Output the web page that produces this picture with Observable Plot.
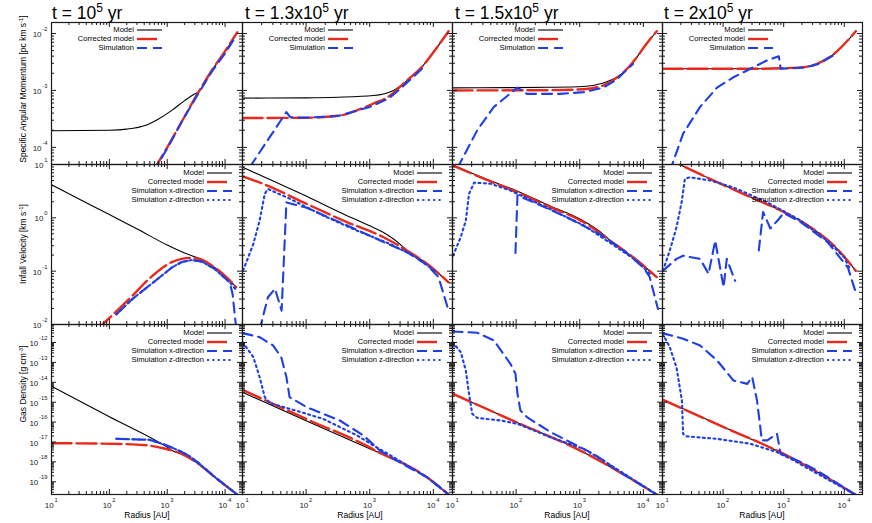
<!DOCTYPE html>
<html><head><meta charset="utf-8">
<script src="https://cdn.jsdelivr.net/npm/d3@7"></script>
<script src="https://cdn.jsdelivr.net/npm/@observablehq/plot@0.6"></script>
<style>
body{margin:0;background:#fff;font-family:"Liberation Sans",Arial,sans-serif;}
#root{position:relative;width:872px;height:523px;overflow:hidden;background:#fff;}
.abs{position:absolute;white-space:nowrap;color:#000;}
.sp{position:relative;font-size:70%;top:-0.45em;}
</style></head><body><div id="root"></div>
<script>
// ---------- tick values / labels ----------
const radiusTicks = [10, 100, 1000, 10000];
const radiusTickExps = ["1", "2", "3", "4"];
const jTicks = [1e-4, 1e-3, 1e-2];
const jTickExps = ["-4", "-3", "-2"];
const vTicks = [1e-2, 1e-1, 1, 10];
const vTickExps = ["-2", "-1", "0", "1"];
const rhoTicks = [1e-19, 1e-18, 1e-17, 1e-16, 1e-15, 1e-14, 1e-13, 1e-12];
const rhoTickExps = ["-19", "-18", "-17", "-16", "-15", "-14", "-13", "-12"];

const timeMantissa = ["", "1.3x", "1.5x", "2x"];
const timeExp = "5";
const yLabels = ["Specific Angular Momentum [pc km s<span class='sp'>-1</span>]",
                 "Infall Velocity [km s<span class='sp'>-1</span>]",
                 "Gas Density [g cm<span class='sp'>-3</span>]"];
const xLabel = "Radius [AU]";
const legendRow1 = ["Model", "Corrected model", "Simulation"];
const legendRows23 = ["Model", "Corrected model", "Simulation x-direction", "Simulation z-direction"];

// ---------- specific angular momentum [pc km/s] vs radius [AU] ----------
const jModel_1 = [[10,1.96e-4],[100,2.0e-4],[200,2.09e-4],[427,2.45e-4],[708,3.16e-4],[1202,4.47e-4],[1995,6.61e-4],[3020,8.71e-4],[3467,9.33e-4],[5888,2.24e-3],[10000,4.79e-3],[16220,1.05e-2]];
const jCorr_1 = [[562,3.72e-5],[1000,1.0e-4],[1778,2.82e-4],[3467,9.33e-4],[5888,2.24e-3],[10000,4.9e-3],[16220,1.05e-2]];
const jSim_1 = [[575,3.72e-5],[1000,9.55e-5],[1778,2.82e-4],[3467,8.91e-4],[5888,2.14e-3],[10000,4.47e-3],[15490,9.12e-3]];

const jModel_2 = [[10,7.33e-4],[100,7.41e-4],[316,7.59e-4],[1148,8.13e-4],[2344,1.0e-3],[3388,1.32e-3],[6918,2.75e-3],[11480,5.75e-3],[17380,1.096e-2]];
const jCorr_2 = [[10,3.27e-4],[100,3.31e-4],[339,3.63e-4],[631,4.47e-4],[1148,5.89e-4],[2089,8.13e-4],[3388,1.32e-3],[6918,2.75e-3],[11480,5.75e-3],[17380,1.096e-2]];
const jSim_2 = [[13.2,4.6e-5],[49,4.17e-4],[56.2,3.39e-4],[100,3.31e-4],[316,3.55e-4],[1000,5.13e-4],[1995,7.24e-4],[3162,1.12e-3],[6918,2.51e-3]];

const jModel_3 = [[10,1.11e-3],[100,1.12e-3],[316,1.135e-3],[1148,1.175e-3],[2344,1.35e-3],[3802,1.70e-3],[4898,2.09e-3],[6918,3.16e-3],[11220,6.61e-3],[16220,1.096e-2]];
const jCorr_3 = [[10,1.0e-3],[316,1.01e-3],[1148,1.05e-3],[2344,1.23e-3],[3802,1.66e-3],[4898,2.09e-3],[6918,3.16e-3],[11220,6.61e-3],[16220,1.096e-2]];
const jSim_3 = [[12.0,4.37e-5],[24.5,2.0e-4],[44.7,5.13e-4],[105,1.12e-3],[148,8.71e-4],[490,8.71e-4],[1148,9.33e-4],[2344,1.12e-3],[3802,1.55e-3],[6918,2.95e-3]];

const jModel_4 = [[10,2.40e-3],[316,2.40e-3],[1000,2.45e-3],[2188,2.57e-3],[3631,2.95e-3],[6761,4.37e-3],[11480,7.59e-3],[15490,1.096e-2]];
const jCorr_4 = [[10,2.40e-3],[316,2.40e-3],[1000,2.45e-3],[2188,2.57e-3],[3631,2.95e-3],[6761,4.37e-3],[11480,7.59e-3],[15490,1.096e-2]];
const jSim_4 = [[13.2,3.8e-5],[21.9,1.74e-4],[41.7,5.13e-4],[79.4,1.12e-3],[148,1.70e-3],[282,2.40e-3],[537,3.39e-3],[832,3.98e-3],[891,2.40e-3],[2188,2.51e-3],[3631,2.88e-3],[6761,4.17e-3]];

// ---------- infall velocity [km/s] ----------
const vModel_1 = [[10,4.17],[31.6,2.19],[100,1.15],[316,0.603],[1000,0.309],[1995,0.219],[3162,0.182],[3981,0.166],[6607,0.117],[10000,0.0813],[15490,0.0501]];
const vCorr_1 = [[60.3,7.94e-3],[251,0.0347],[490,0.0724],[1202,0.148],[1778,0.170],[2630,0.178],[3981,0.162],[6607,0.117],[10000,0.0813],[15490,0.0501]];
const vSimX_1 = [[132,0.0155],[251,0.0302],[490,0.0537],[1202,0.117],[1778,0.148],[2630,0.162],[3981,0.151],[6607,0.110],[12020,0.0617],[13490,0.0372],[15490,8.9e-3]];
const vSimZ_1 = [[132,0.0155],[251,0.0302],[490,0.0537],[1202,0.117],[1778,0.148],[2630,0.162],[3981,0.151],[6607,0.110],[12020,0.0617],[15490,0.0447]];

const vModel_2 = [[10,8.91],[31.6,4.79],[100,2.57],[316,1.32],[1000,0.708],[1622,0.537],[2512,0.380],[3802,0.251],[7943,0.138],[17380,0.0617]];
const vCorr_2 = [[10,5.96],[24,4.07],[102,1.82],[437,0.832],[1622,0.437],[3802,0.245],[7943,0.138],[17380,0.0617]];
const vSimX_2 = [[18.6,7.94e-3],[25.1,0.0324],[32.4,0.0468],[41.2,0.0182],[49,1.95],[102,1.55],[437,0.724],[1622,0.355],[3802,0.229],[7943,0.132],[12020,0.0776],[17380,0.0182]];
const vSimZ_2 = [[10.2,0.102],[14.8,0.324],[18.6,0.891],[22.4,2.82],[25.1,3.47],[55,2.29],[186,1.10],[631,0.575],[2089,0.324],[5012,0.191],[11220,0.0955]];

const vModel_3 = [[10,9.89],[31.6,5.50],[105,3.16],[316,1.74],[1148,0.871],[2344,0.490],[3020,0.372],[6918,0.182],[16220,0.0776]];
const vCorr_3 = [[10,9.66],[31.6,5.37],[105,3.02],[347,1.585],[1148,0.832],[3020,0.372],[6918,0.182],[16220,0.0776]];
const vSimX_3 = [[97.7,0.219],[105,2.63],[191,1.95],[631,1.02],[2089,0.490],[4898,0.245],[10000,0.117],[12590,0.0776],[16980,0.0195]];
const vSimZ_3 = [[10.2,0.195],[13.5,0.437],[16.2,0.891],[18.2,2.82],[21.9,4.57],[39.8,4.37],[81.3,3.24],[347,1.445],[1148,0.724],[3020,0.339],[7943,0.155],[12590,0.0891]];

const vModel_4 = [[10,14.1],[20.9,9.55],[79.4,4.68],[282,2.45],[1000,1.29],[2818,0.661],[6761,0.302],[15490,0.102]];
const vCorr_4 = [[10,14.1],[20.9,9.55],[79.4,4.68],[282,2.45],[1000,1.29],[2818,0.661],[6761,0.302],[15490,0.102]];
const vSimX_4 = [[10.2,0.102],[17,0.170],[21.9,0.195],[41.7,0.170],[57.5,0.0891],[74.1,0.372],[89.1,0.117],[102,0.0501],[115,0.170],[158,0.0661],[250,NaN],[389,0.245],[457,1.29],[603,0.631],[794,0.891],[1000,1.23],[1905,0.832],[5248,0.355],[11480,0.117],[15490,0.0398]];
const vSimZ_4 = [[10.2,0.102],[13.2,0.245],[17,0.661],[20.9,2.09],[23.4,5.37],[28.2,5.75],[61.7,5.01],[148,3.72],[537,1.95],[1905,0.891],[5248,0.372],[10000,0.182],[12020,0.117]];

// ---------- gas density [g/cm^3] ----------
const rhoModel_1 = [[10,6.31e-15],[100,1.86e-16],[1000,5.50e-18],[1259,3.55e-18],[1778,2.51e-18],[3467,7.94e-19],[6607,1.70e-19],[16220,2.29e-20]];
const rhoCorr_1 = [[10,8.71e-18],[170,7.94e-18],[490,6.61e-18],[933,4.57e-18],[1778,2.51e-18],[3467,7.94e-19],[6607,1.70e-19],[16220,2.29e-20]];
const rhoSimX_1 = [[132,1.445e-17],[490,1.29e-17],[933,7.08e-18],[1585,3.72e-18],[2344,2.09e-18],[3467,8.91e-19],[6607,1.78e-19],[16220,2.29e-20]];
const rhoSimZ_1 = [[132,1.445e-17],[490,1.29e-17],[933,7.08e-18],[1585,3.72e-18],[2344,2.09e-18],[3467,8.91e-19],[6607,1.78e-19],[16220,2.29e-20]];

const rhoModel_2 = [[10,3.16e-15],[100,1.17e-16],[1000,4.57e-18],[2692,1.17e-18],[7943,1.70e-19],[17380,2.29e-20]];
const rhoCorr_2 = [[10,4.17e-15],[100,1.445e-16],[1000,5.37e-18],[1445,2.82e-18],[2692,1.17e-18],[7943,1.70e-19],[17380,2.29e-20]];
const rhoSimX_2 = [[10,2.95e-12],[18.6,1.86e-12],[30.2,7.08e-13],[40.7,1.82e-13],[49,1.82e-14],[55,1.78e-15],[102,5.62e-16],[339,1.20e-16],[794,2.14e-17],[1445,3.72e-18],[2692,1.12e-18],[7943,1.70e-19],[17380,2.29e-20]];
const rhoSimZ_2 = [[10,1.05e-12],[14.8,1.82e-13],[18.6,1.82e-14],[22.4,1.78e-15],[26.9,8.91e-16],[55,4.68e-16],[186,1.445e-16],[631,2.14e-17],[1148,6.61e-18],[2344,1.74e-18],[7943,1.70e-19],[17380,2.29e-20]];

const rhoModel_3 = [[10,2.69e-15],[100,1.0e-16],[1148,3.09e-18],[3802,3.72e-19],[16220,2.29e-20]];
const rhoCorr_3 = [[10,2.69e-15],[100,1.0e-16],[1148,3.09e-18],[3802,3.72e-19],[16220,2.29e-20]];
const rhoSimX_3 = [[10,3.55e-12],[24.5,3.09e-12],[44.7,1.26e-12],[81.3,8.51e-14],[97.7,2.69e-14],[105,2.63e-15],[117,3.80e-16],[148,1.78e-16],[347,3.16e-17],[794,8.13e-18],[1660,2.51e-18],[2692,8.91e-19],[3802,3.98e-19],[16220,2.29e-20]];
const rhoSimZ_3 = [[10,1.05e-12],[13.5,3.24e-13],[16.2,3.89e-14],[18.2,2.63e-15],[20.4,2.63e-16],[24.5,1.62e-16],[57.5,1.20e-16],[105,8.13e-17],[347,1.74e-17],[1148,4.57e-18],[2692,8.91e-19],[16220,2.29e-20]];

const rhoModel_4 = [[10,1.35e-15],[100,5.75e-17],[1000,2.51e-18],[3631,3.02e-19],[15140,2.29e-20]];
const rhoCorr_4 = [[10,1.35e-15],[100,5.75e-17],[1000,2.51e-18],[3631,3.02e-19],[15140,2.29e-20]];
const rhoSimX_4 = [[10,2.95e-12],[21.9,1.55e-12],[41.7,7.08e-13],[79.4,1.26e-13],[148,1.23e-14],[251,8.32e-15],[302,1.82e-14],[363,1.23e-15],[437,1.20e-17],[537,1.20e-17],[776,2.57e-17],[891,2.51e-18],[1122,2.0e-18],[1905,1.0e-18],[3631,3.55e-19],[15140,2.29e-20]];
const rhoSimZ_4 = [[10,2.82e-12],[13.2,5.75e-13],[17,5.75e-14],[20.9,1.23e-15],[21.9,2.57e-17],[25.1,1.91e-17],[79.4,1.445e-17],[282,8.13e-18],[776,3.09e-18],[1479,1.17e-18],[3631,2.51e-19],[15140,2.29e-20]];

// ---------- layout ----------
const X_DOMAIN = [10, 20000];
const COL_X = [51, 242, 452, 662];
const COL_W = [191, 210, 210, 200];
const ROW_Y = [22, 164, 324];
const ROW_H = [142, 160, 170];
const Y_DOMAINS = [[5.0e-5, 1.56e-2], [1e-2, 10], [2.3e-20, 8.0e-12]];
const Y_TICKS = [jTicks, vTicks, rhoTicks];
const Y_EXPS = [jTickExps, vTickExps, rhoTickExps];
const RED = "#e8291c", BLUE = "#1f3fe6", INK = "#1a1a1a";
const FONT = "Liberation Sans, Arial, Helvetica, sans-serif";
const TICK_FS = 8, EXP_FS = 5.8, MAJ = 5, MIN = 3, LEG_FS = 7.6;
const STYLE = {
  model: {stroke: "#000", strokeWidth: 1.1, strokeDasharray: null},
  corr: {stroke: RED, strokeWidth: 2.4, strokeDasharray: "20,5"},
  simx: {stroke: BLUE, strokeWidth: 2.1, strokeDasharray: "10,6"},
  simz: {stroke: BLUE, strokeWidth: 2.1, strokeDasharray: "2,3.4"}
};
const KINDS = ["model", "corr", "simx", "simz"];
const SERIES = [
  [[jModel_1, jCorr_1, jSim_1], [jModel_2, jCorr_2, jSim_2], [jModel_3, jCorr_3, jSim_3], [jModel_4, jCorr_4, jSim_4]],
  [[vModel_1, vCorr_1, vSimX_1, vSimZ_1], [vModel_2, vCorr_2, vSimX_2, vSimZ_2], [vModel_3, vCorr_3, vSimX_3, vSimZ_3], [vModel_4, vCorr_4, vSimX_4, vSimZ_4]],
  [[rhoModel_1, rhoCorr_1, rhoSimX_1, rhoSimZ_1], [rhoModel_2, rhoCorr_2, rhoSimX_2, rhoSimZ_2], [rhoModel_3, rhoCorr_3, rhoSimX_3, rhoSimZ_3], [rhoModel_4, rhoCorr_4, rhoSimX_4, rhoSimZ_4]]
];

const root = document.getElementById("root");
function addDiv(html, style) {
  const d = document.createElement("div");
  d.className = "abs";
  d.innerHTML = html;
  Object.assign(d.style, style);
  root.appendChild(d);
  return d;
}
function minorTicks([lo, hi]) {
  const out = [];
  for (let e = Math.floor(Math.log10(lo)) - 1; e <= Math.ceil(Math.log10(hi)); e++)
    for (let m = 2; m <= 9; m++) {
      const v = +(m + "e" + e);
      if (v > lo && v < hi) out.push(v);
    }
  return out;
}

function drawPanel(r, c) {
  const w = COL_W[c], h = ROW_H[r], yDom = Y_DOMAINS[r];
  const marks = [];
  SERIES[r][c].forEach((data, k) => {
    const s = STYLE[KINDS[k]];
    marks.push(Plot.line(data, {
      x: d => d[0], y: d => d[1], stroke: s.stroke, strokeWidth: s.strokeWidth,
      strokeDasharray: s.strokeDasharray, curve: k < 2 ? "monotone-x" : "linear", clip: true
    }));
  });
  const xMin = minorTicks(X_DOMAIN), yMin = minorTicks(yDom), yMaj = Y_TICKS[r];
  const tk = {stroke: INK, strokeWidth: 1};
  marks.push(
    Plot.tickX(radiusTicks, {x: d => d, insetTop: h - MAJ, ...tk}),
    Plot.tickX(radiusTicks, {x: d => d, insetBottom: h - MAJ, ...tk}),
    Plot.tickX(xMin, {x: d => d, insetTop: h - MIN, ...tk}),
    Plot.tickX(xMin, {x: d => d, insetBottom: h - MIN, ...tk}),
    Plot.tickY(yMaj, {y: d => d, insetRight: w - MAJ, ...tk}),
    Plot.tickY(yMaj, {y: d => d, insetLeft: w - MAJ, ...tk}),
    Plot.tickY(yMin, {y: d => d, insetRight: w - MIN, ...tk}),
    Plot.tickY(yMin, {y: d => d, insetLeft: w - MIN, ...tk}),
    Plot.frame({stroke: INK, strokeWidth: 1.2})
  );
  if (r === 2) {
    marks.push(
      Plot.text(radiusTicks, {x: d => d, frameAnchor: "bottom", dy: 13, dx: 2.2, textAnchor: "end", text: () => "10", fontSize: TICK_FS, fill: INK}),
      Plot.text(radiusTicks, {x: d => d, frameAnchor: "bottom", dy: 7.5, dx: 3, textAnchor: "start", text: (d, i) => radiusTickExps[i], fontSize: EXP_FS, fill: INK})
    );
  }
  if (c === 0) {
    yMaj.forEach((v, i) => {
      const e = Y_EXPS[r][i];
      const expW = EXP_FS * (0.556 * e.replace("-", "").length + (e.startsWith("-") ? 0.333 : 0));
      marks.push(
        Plot.text([v], {y: d => d, frameAnchor: "left", dx: -(4.8 + expW), dy: 1, textAnchor: "end", text: () => "10", fontSize: TICK_FS, fill: INK}),
        Plot.text([v], {y: d => d, frameAnchor: "left", dx: -4, dy: -4.5, textAnchor: "end", text: () => e, fontSize: EXP_FS, fill: INK})
      );
    });
  }
  const svg = Plot.plot({
    width: w, height: h, margin: 0,
    style: {background: "transparent", overflow: "visible", fontFamily: FONT, maxWidth: "none"},
    x: {type: "log", domain: X_DOMAIN, axis: null},
    y: {type: "log", domain: yDom, axis: null},
    marks
  });
  const holder = addDiv("", {left: COL_X[c] + "px", top: ROW_Y[r] + "px", width: w + "px", height: h + "px"});
  holder.appendChild(svg);

  // legend
  const labels = r === 0 ? legendRow1 : legendRows23;
  const offs = r === 0 ? [8, 17, 26] : [8.5, 17.5, 26.5, 35.5];
  const lx = r === 0 ? COL_X[c] + 86 : COL_X[c] + w - 35;
  labels.forEach((lab, i) => {
    const yy = ROW_Y[r] + offs[i];
    const s = STYLE[KINDS[i]];
    addDiv(lab, {left: (lx - 3) + "px", top: yy + "px", transform: "translate(-100%,-55%)", fontSize: LEG_FS + "px", lineHeight: "7.5px", height: "7.5px", fontFamily: FONT});
    addDiv(`<svg width="25" height="6" style="display:block"><line x1="0" x2="25" y1="3" y2="3" stroke="${s.stroke}" stroke-width="${s.strokeWidth}" ${s.strokeDasharray ? `stroke-dasharray="${s.strokeDasharray}"` : ""}/></svg>`,
      {left: lx + "px", top: (yy - 3) + "px"});
  });
}

for (let r = 0; r < 3; r++) for (let c = 0; c < 4; c++) drawPanel(r, c);

// titles
const titleX = [52, 245, 455, 664];
timeMantissa.forEach((m, c) => {
  addDiv(`t = ${m}10<span style="position:relative;top:-7px;font-size:12px">${timeExp}</span> yr`,
    {left: titleX[c] + "px", top: "3px", fontSize: "17.5px", lineHeight: "20px", fontFamily: FONT});
});
// y-axis labels
const yLabelCY = [89, 244, 384];
yLabels.forEach((t, r) => {
  addDiv(t, {left: "23px", top: yLabelCY[r] + "px", transform: "translate(-50%,-50%) rotate(-90deg)", fontSize: "8.5px", lineHeight: "1", fontFamily: FONT});
});
// x-axis labels
const xLabelCX = [147, 360, 567, 762];
xLabelCX.forEach(cx => {
  addDiv(xLabel, {left: cx + "px", top: "515px", transform: "translate(-50%,-50%)", fontSize: "8.5px", lineHeight: "1", fontFamily: FONT});
});
</script></body></html>
